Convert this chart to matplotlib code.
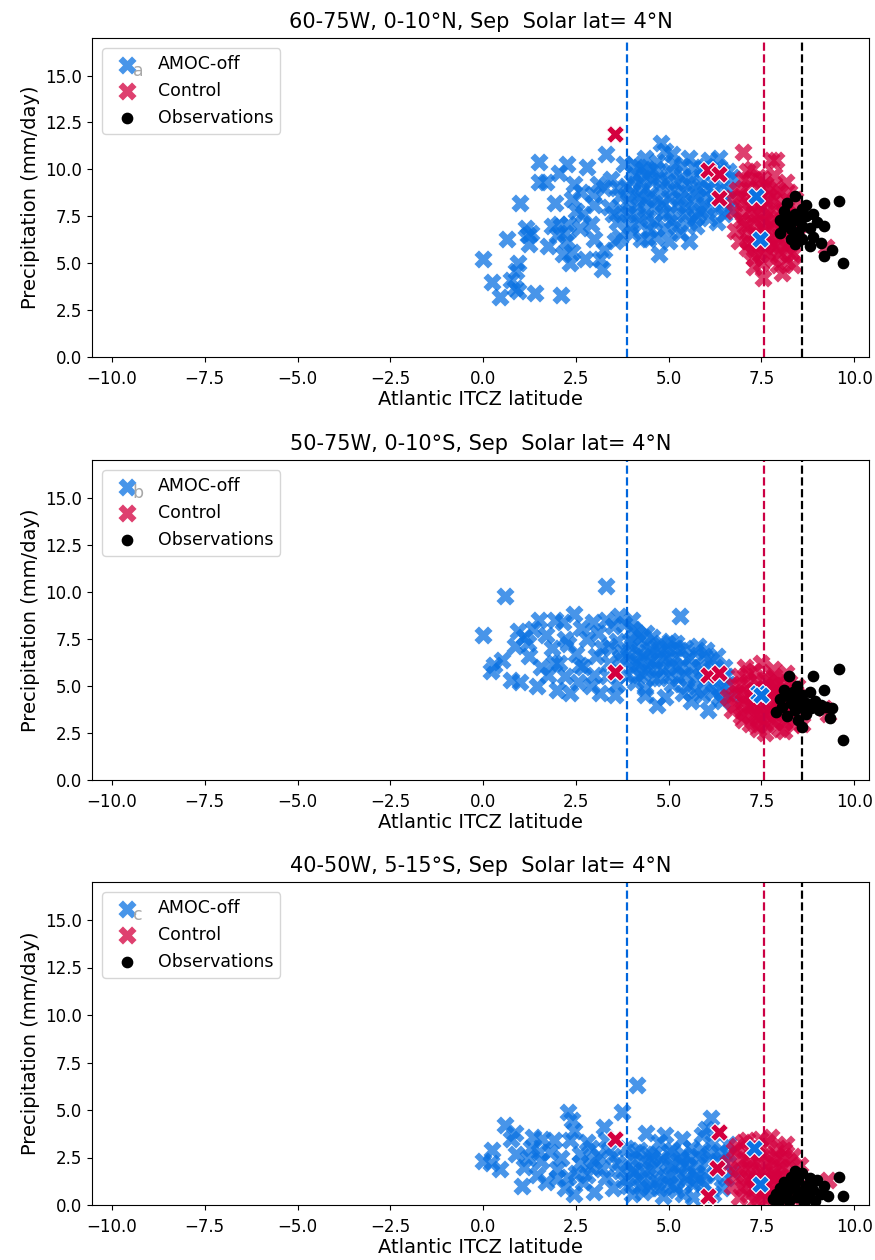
import numpy as np
import matplotlib
matplotlib.use("Agg")
import matplotlib.pyplot as plt

# vertical reference lines (mean ITCZ latitude)
itcz_amoc = 3.88
itcz_ctrl = 7.58
itcz_obs = 8.6

titles = ["60-75W, 0-10°N, Sep  Solar lat= 4°N",
          "50-75W, 0-10°S, Sep  Solar lat= 4°N",
          "40-50W, 5-15°S, Sep  Solar lat= 4°N"]
panel_letters = ["a", "b", "c"]

# ---- panel a ----
amoc_a = [(0.0,5.2),(0.25,4.0),(0.45,3.2),(0.65,6.3),(0.75,4.1),(0.85,3.7),(0.9,4.6),(0.95,5.0),(1.0,8.2),(0.95,3.5),
          (1.15,6.9),(1.2,6.5),(1.3,6.6),(1.25,6.0),(1.4,3.4),(1.5,10.4),(1.5,9.3),(1.7,9.3),(1.75,5.9),(1.85,7.0),
          (1.95,8.2),(2.05,9.8),(2.05,7.1),(2.1,3.3),(2.15,5.5),(2.25,10.3),(2.25,6.2),(2.2,6.6),(2.35,5.0),(2.45,9.2),
          (2.5,7.8),(2.4,5.6),(2.6,6.9),(2.65,8.8),(2.75,5.2),(2.8,10.1),(2.9,7.1),(2.95,8.7),(3.0,6.3),(3.15,5.2),
          (3.2,4.7),(3.25,5.7),(3.3,10.8),(3.25,9.0),(3.4,8.0),(3.45,9.5),(3.55,6.2),(3.6,7.2),(3.7,8.6),(3.8,10.3),
          (3.85,9.1),(3.9,7.6),(4.0,8.8),(4.0,6.6),(4.1,9.7),(4.15,8.1),(4.2,7.2),(4.3,10.0),(4.3,9.0),(4.35,10.6),
          (4.4,8.4),(4.45,7.4),(4.5,6.8),(4.55,9.4),(4.6,8.0),(4.7,10.4),(4.75,5.5),(4.8,11.4),(4.8,9.1),(4.85,7.7),
          (4.9,11.0),(4.9,6.9),(5.0,8.5),(5.05,9.9),(5.1,10.8),(5.1,7.3),(5.2,9.3),(5.25,8.1),(5.3,6.6),(5.35,10.2),
          (5.4,8.8),(5.45,7.6),(5.55,10.6),(5.55,6.2),(5.6,9.6),(5.65,8.3),(5.75,7.0),(5.8,9.0),(5.85,7.8),(5.9,10.0),
          (6.0,8.6),(6.0,10.2),(6.1,7.4),(6.2,9.3),(6.35,10.6),(6.4,8.2),(6.45,9.9),(6.5,7.6),(6.6,8.9),(6.7,9.6),
          (4.25,6.3),(4.65,6.4),(5.0,6.2),(3.95,7.0),(4.05,10.3),(4.5,9.9),(5.7,7.4),(6.25,8.0),(6.3,10.1),(3.7,6.4),
          (4.2,8.6),
          (3.9,8.3),(4.0,9.4),(4.1,7.6),(4.2,10.1),(4.25,9.3),(4.35,7.9),(4.4,9.7),(4.5,8.7),(4.6,7.2),(4.65,10.0),
          (4.7,8.4),(4.75,9.6),(4.85,8.2),(4.95,9.4),(5.0,7.7),(5.1,8.9),(5.15,10.3),(5.2,7.0),(5.3,8.5),(5.35,9.6),
          (5.45,8.0),(5.5,9.2),(5.55,7.2),(5.65,10.1),(5.7,8.7),(5.8,7.6),(5.9,9.4),(5.95,8.1),(6.05,9.0),(6.1,10.5),
          (6.2,8.5),(6.3,7.2),(6.4,9.1),(6.55,8.4),(6.6,9.9),(6.65,7.9),(3.6,9.0),(3.5,7.6),(3.75,7.8),(4.45,6.3),
          (3.1,9.2),(3.0,8.1),(2.7,7.6),(2.4,8.4),(2.0,6.5),(2.3,7.1)]
ctrl_a = [(6.75,7.8),(6.8,6.7),(6.85,8.9),(6.9,6.2),(6.95,7.3),(7.0,10.9),(7.0,9.5),(7.05,8.2),(7.1,5.8),(7.1,7.0),
          (7.15,9.0),(7.2,6.5),(7.2,7.8),(7.25,10.0),(7.3,5.3),(7.3,8.4),(7.35,7.2),(7.4,6.0),(7.4,9.6),(7.45,7.6),
          (7.5,5.0),(7.5,8.0),(7.55,4.2),(7.55,6.8),(7.6,9.2),(7.6,7.3),(7.65,5.6),(7.7,8.6),(7.7,6.4),(7.75,10.5),
          (7.75,7.0),(7.8,5.2),(7.8,7.9),(7.85,9.7),(7.9,6.0),(7.9,10.5),(7.95,7.4),(8.0,8.8),(8.0,5.5),(8.05,4.5),
          (8.1,6.6),(8.15,9.3),(8.2,5.1),(8.25,7.8),(8.3,6.2),(8.35,5.5),(8.4,8.4),(7.0,7.6),(7.25,6.1),(7.65,8.3),
          (7.45,9.0),(7.85,6.7),(8.1,7.2),(7.3,4.8),(9.25,5.85),(6.7,8.5),(7.1,8.6),(7.95,5.8),
          (6.95,8.6),(7.05,7.0),(7.15,6.2),(7.2,9.4),(7.3,7.6),(7.35,6.6),(7.4,8.2),(7.5,7.0),(7.55,9.5),(7.6,5.9),
          (7.65,7.7),(7.7,9.0),(7.75,6.1),(7.8,8.4),(7.85,7.2),(7.9,9.0),(8.0,6.3),(8.05,7.8),(8.1,8.2),(8.15,5.9),
          (8.2,6.9),(8.25,8.8),(8.3,5.6),(8.4,7.1),(7.25,5.6),(7.45,5.5),(7.95,4.9),(8.35,4.9),(7.1,9.9),(8.5,6.5),
          (8.45,7.6)]
amoc_hi_a = [(7.35,8.6),(7.45,6.3)]
ctrl_hi_a = [(3.55,11.9),(6.05,9.95),(6.35,9.75),(6.35,8.45)]
obs_a = [(8.0,7.3),(8.1,7.0),(8.1,7.8),(8.2,8.2),(8.2,7.5),(8.3,7.2),(8.3,6.8),(8.4,8.6),(8.4,7.6),(8.4,6.0),
         (8.5,7.3),(8.5,6.6),(8.6,7.9),(8.6,7.0),(8.6,6.3),(8.7,7.5),(8.7,8.1),(8.8,6.9),(8.8,5.9),(8.9,7.6),
         (8.9,6.4),(9.0,7.2),(9.1,6.1),(9.2,8.2),(9.2,7.0),(9.2,5.4),(9.4,5.7),(9.6,8.3),(9.7,5.0),(8.0,6.6),
         (8.55,7.6),(8.3,6.3)]

# ---- panel b ----
amoc_b = [(0.0,7.7),(0.2,5.8),(0.3,6.1),(0.5,6.4),(0.6,9.8),(0.75,5.3),(0.85,7.1),(0.95,7.9),(1.0,5.2),(1.1,7.6),
          (1.2,7.3),(1.25,6.6),(1.35,8.0),(1.45,5.0),(1.5,8.5),(1.55,6.0),(1.7,7.7),(1.75,5.6),(1.85,7.0),(1.95,8.5),
          (2.0,4.8),(2.05,6.2),(2.15,8.4),(2.2,5.5),(2.3,7.2),(2.35,4.6),(2.45,8.8),(2.5,6.7),(2.55,5.2),(2.65,8.1),
          (2.7,6.0),(2.8,7.5),(2.9,5.0),(2.95,8.4),(3.05,6.6),(3.1,7.8),(3.15,4.6),(3.3,10.3),(3.35,5.5),(3.4,7.1),
          (3.5,8.2),(3.55,4.5),(3.65,8.7),(3.7,6.5),(3.8,8.3),(3.85,5.6),(3.95,7.4),(4.0,6.0),(4.05,8.0),(4.1,5.2),
          (4.15,6.8),(4.25,7.6),(4.3,5.7),(4.35,4.9),(4.4,7.0),(4.5,6.3),(4.55,7.6),(4.6,5.4),(4.7,4.0),(4.75,6.8),
          (4.8,7.3),(4.85,5.9),(4.9,4.4),(5.0,6.5),(5.05,7.4),(5.1,5.1),(5.2,6.0),(5.3,8.7),(5.3,6.9),(5.4,4.6),
          (5.45,5.6),(5.55,6.5),(5.6,4.2),(5.7,5.3),(5.8,7.1),(5.85,6.0),(5.9,4.5),(6.0,5.5),(6.05,3.7),(6.15,6.4),
          (6.2,4.7),(6.3,5.3),(6.45,4.2),(6.5,6.0),(6.6,5.1),(6.7,4.5),(4.0,8.5),(4.2,6.2),(4.65,6.0),(5.15,7.0),
          (5.95,6.6),(6.35,4.4),
          (3.9,6.6),(4.0,7.1),(4.1,6.3),(4.15,7.8),(4.2,5.6),(4.3,6.6),(4.4,7.8),(4.45,5.9),(4.5,6.9),(4.6,6.3),
          (4.7,7.1),(4.75,5.4),(4.85,6.5),(4.95,7.0),(5.0,5.6),(5.1,6.2),(5.2,7.3),(5.25,5.4),(5.35,6.1),(5.45,7.0),
          (5.5,5.0),(5.6,6.0),(5.7,6.8),(5.75,4.8),(5.9,5.8),(6.0,6.9),(6.1,5.0),(6.2,5.9),(6.3,6.6),(6.4,4.9),
          (6.55,5.5),(3.6,7.4),(3.75,6.8),(3.4,6.2),(3.2,7.0),(3.0,5.6),(2.6,6.1),(2.2,7.5),(1.9,6.2),(3.3,8.5),
          (3.6,5.1),(4.35,4.5)]
ctrl_b = [(6.6,4.4),(6.7,3.7),(6.75,5.0),(6.8,4.0),(6.9,5.5),(6.95,3.4),(7.0,4.7),(7.05,6.0),(7.1,3.9),(7.15,5.2),
          (7.2,3.0),(7.25,4.4),(7.3,5.8),(7.35,3.5),(7.4,2.7),(7.45,4.9),(7.5,6.2),(7.5,3.2),(7.55,4.1),(7.6,5.4),
          (7.65,2.9),(7.7,3.7),(7.75,4.6),(7.8,5.9),(7.85,3.1),(7.9,4.2),(7.95,5.2),(8.0,2.7),(8.05,3.6),(8.1,4.8),
          (8.15,5.7),(8.2,3.3),(8.3,4.4),(8.35,2.9),(8.45,5.0),(8.5,3.8),(8.6,3.0),(7.3,4.0),(7.65,4.4),(7.85,5.0),
          (7.0,4.2),(8.0,3.9),(9.2,3.8),(9.3,3.5),(7.45,3.8),(7.95,4.6),
          (6.85,4.6),(6.95,5.1),(7.05,3.6),(7.1,4.5),(7.15,5.7),(7.2,4.0),(7.3,4.8),(7.35,5.3),(7.4,3.3),(7.45,4.3),
          (7.55,3.5),(7.6,4.9),(7.7,5.2),(7.75,3.3),(7.8,4.0),(7.85,5.5),(7.9,3.5),(8.0,5.0),(8.05,4.3),(8.1,3.1),
          (8.2,4.0),(8.25,5.2),(8.3,3.6),(8.4,4.7),(7.6,2.5),(7.35,2.9),(8.1,2.6),(7.0,3.2)]
amoc_hi_b = [(7.4,4.6),(7.5,4.5)]
ctrl_hi_b = [(3.55,5.75),(6.05,5.6),(6.35,5.7)]
obs_b = [(7.9,3.6),(8.0,4.3),(8.05,3.9),(8.1,4.8),(8.15,4.5),(8.2,3.4),(8.25,5.5),(8.3,4.1),(8.35,4.7),(8.4,3.7),
         (8.45,5.0),(8.5,4.3),(8.55,3.9),(8.6,2.8),(8.6,4.5),(8.7,3.5),(8.7,4.1),(8.8,4.7),(8.85,3.8),(8.9,5.5),
         (8.95,4.2),(9.05,3.7),(9.1,4.0),(9.2,4.8),(9.25,3.9),(9.35,3.3),(9.4,3.8),(9.6,5.9),(9.7,2.1),(8.35,4.4),
         (8.5,3.2),(8.75,4.0)]

# ---- panel c ----
amoc_c = [(0.0,2.3),(0.2,2.2),(0.25,2.9),(0.45,1.9),(0.6,4.2),(0.75,3.5),(0.85,3.8),(0.9,2.7),(1.05,1.0),(1.1,2.0),
          (1.2,2.5),(1.35,3.6),(1.45,1.6),(1.55,2.3),(1.6,3.5),(1.7,1.2),(1.8,2.8),(1.9,3.4),(2.0,1.9),(2.1,2.5),
          (2.2,0.9),(2.3,4.9),(2.35,3.4),(2.4,4.5),(2.45,0.6),(2.5,1.7),(2.6,2.7),(2.7,1.2),(2.8,3.3),(2.9,2.0),
          (3.0,0.7),(3.1,2.6),(3.25,4.1),(3.3,1.5),(3.4,2.9),(3.5,0.9),(3.6,2.2),(3.75,4.9),(3.8,1.3),(3.85,3.0),
          (3.95,2.0),(4.0,0.6),(4.1,2.8),(4.15,6.3),(4.2,1.4),(4.3,2.3),(4.4,3.8),(4.45,0.9),(4.5,1.9),(4.6,2.7),
          (4.7,1.2),(4.75,3.3),(4.85,0.5),(4.9,3.7),(4.95,2.2),(5.05,1.6),(5.1,2.9),(5.2,0.8),(5.3,2.4),(5.35,3.5),
          (5.45,1.3),(5.5,2.0),(5.6,3.0),(5.65,0.4),(5.7,1.7),(5.8,2.6),(5.9,3.7),(5.95,1.1),(6.05,2.3),(6.15,4.6),
          (6.2,3.3),(6.25,1.6),(6.35,2.8),(6.45,0.9),(6.5,2.2),(6.6,3.2),(6.7,1.8),(4.25,1.0),(4.55,2.5),(5.0,1.1),
          (5.4,2.7),(5.75,1.5),(4.05,1.8),(6.0,4.0),
          (3.9,1.0),(4.0,2.4),(4.1,1.7),(4.2,2.9),(4.3,0.7),(4.35,1.8),(4.45,2.7),(4.55,1.2),(4.65,2.0),(4.75,0.9),
          (4.8,2.5),(4.9,1.5),(5.0,2.8),(5.1,2.1),(5.15,1.0),(5.25,1.7),(5.35,2.2),(5.4,0.6),(5.5,1.5),(5.55,2.5),
          (5.65,1.1),(5.75,2.1),(5.85,1.3),(5.9,2.9),(6.0,1.7),(6.1,2.7),(6.2,0.6),(6.3,1.9),(6.4,2.4),(6.55,1.4),
          (6.6,2.7),(3.7,1.8),(3.5,2.6),(3.2,1.9),(3.0,2.3),(2.8,1.6),(2.6,2.2),(2.3,1.5),(2.0,1.4),(1.5,2.8),
          (1.3,3.0),(2.9,3.0),(3.3,3.4),(2.45,3.9)]
ctrl_c = [(6.6,2.2),(6.7,1.0),(6.75,2.9),(6.8,1.6),(6.9,0.4),(6.95,2.5),(7.0,3.3),(7.05,1.2),(7.1,2.0),(7.15,0.6),
          (7.2,2.8),(7.25,1.5),(7.3,0.2),(7.4,2.3),(7.45,3.5),(7.5,0.8),(7.55,1.8),(7.6,2.7),(7.65,0.3),(7.7,1.3),
          (7.75,3.6),(7.8,2.2),(7.85,0.7),(7.9,1.6),(7.95,3.0),(8.0,0.4),(8.05,2.5),(8.1,1.1),(8.15,3.2),(8.2,1.9),
          (8.3,0.6),(8.35,2.6),(8.45,1.5),(8.55,2.1),(7.35,1.2),(7.6,1.0),(7.85,1.4),(7.2,1.8),(8.0,2.0),(9.3,1.3),
          (6.85,3.1),
          (6.9,1.9),(7.0,0.9),(7.05,2.4),(7.15,1.4),(7.25,2.3),(7.3,0.9),(7.35,3.1),(7.45,1.7),(7.5,2.6),(7.55,0.5),
          (7.6,1.6),(7.7,2.4),(7.75,0.9),(7.8,1.8),(7.9,2.6),(7.95,1.1),(8.05,1.5),(8.1,2.9),(8.2,0.9),(8.25,2.3),
          (8.35,1.2),(8.4,0.3),(7.1,3.4),(7.65,3.3),(7.4,0.4)]
amoc_hi_c = [(7.3,3.0),(7.45,1.1)]
ctrl_hi_c = [(3.55,3.5),(6.35,3.85),(6.3,1.95),(6.05,0.5)]
obs_c = [(7.8,0.3),(7.9,0.6),(7.95,0.1),(8.0,0.9),(8.05,0.4),(8.1,1.2),(8.2,0.7),(8.25,0.2),(8.3,1.5),(8.4,1.8),
         (8.4,0.9),(8.45,0.4),(8.5,1.3),(8.55,0.6),(8.6,1.7),(8.65,0.1),(8.7,1.0),(8.75,0.5),(8.8,1.4),(8.9,0.8),
         (8.95,0.2),(9.0,1.3),(9.1,0.6),(9.2,1.0),(9.3,0.5),(9.6,1.5),(9.7,0.5),(8.35,1.0),(8.85,1.2)]

panels = [(amoc_a, ctrl_a, amoc_hi_a, ctrl_hi_a, obs_a),
          (amoc_b, ctrl_b, amoc_hi_b, ctrl_hi_b, obs_b),
          (amoc_c, ctrl_c, amoc_hi_c, ctrl_hi_c, obs_c)]

blue = "#0a72e2"
red = "#d4003f"

plt.rcParams["font.size"] = 12

fig = plt.figure(figsize=(8.75, 12.6), dpi=100)
boxes = [(38, 357), (460, 780), (882, 1205)]

for i, (amoc, ctrl, amoc_hi, ctrl_hi, obs) in enumerate(panels):
    top, bot = boxes[i]
    ax = fig.add_axes([92/875, 1 - bot/1260, (869-92)/875, (bot-top)/1260])
    amoc = np.array(amoc); ctrl = np.array(ctrl)
    amoc_hi = np.array(amoc_hi); ctrl_hi = np.array(ctrl_hi); obs = np.array(obs)

    ax.scatter(amoc[:, 0], amoc[:, 1], marker="X", s=170, color=blue, alpha=0.75,
               linewidths=0, label="AMOC-off", zorder=2)
    ax.scatter(ctrl[:, 0], ctrl[:, 1], marker="X", s=170, color=red, alpha=0.75,
               linewidths=0, label="Control", zorder=2)
    ax.scatter(ctrl_hi[:, 0], ctrl_hi[:, 1], marker="X", s=170, color=red,
               edgecolors="white", linewidths=0.8, zorder=3)
    ax.scatter(amoc_hi[:, 0], amoc_hi[:, 1], marker="X", s=170, color=blue,
               edgecolors="white", linewidths=0.8, zorder=3)
    ax.scatter(obs[:, 0], obs[:, 1], marker="o", s=55, color="black",
               label="Observations", zorder=4)

    ax.axvline(itcz_amoc, color="#0066dd", ls="--", lw=1.6, zorder=2.5)
    ax.axvline(itcz_ctrl, color="#cc0044", ls="--", lw=1.6, zorder=2.5)
    ax.axvline(itcz_obs, color="black", ls="--", lw=1.6, zorder=2.5)

    ax.set_xlim(-10.54, 10.4)
    ax.set_ylim(0, 17)
    ax.set_xticks(np.arange(-10, 10.1, 2.5))
    ax.set_yticks(np.arange(0, 15.1, 2.5))
    ax.tick_params(axis="x", pad=6)
    ax.set_title(titles[i], fontsize=15, pad=7)
    ax.set_xlabel("Atlantic ITCZ latitude", fontsize=14, labelpad=1)
    ax.set_ylabel("Precipitation (mm/day)", fontsize=14)
    leg = ax.legend(loc="upper left", fontsize=12.5, handletextpad=0.8, borderaxespad=0.6)
    leg.set_zorder(5)
    ax.text(-9.3, 15.25, panel_letters[i], color="#a8a8a8", fontsize=12.5,
            ha="center", va="center", zorder=6)

fig.savefig("out.png", dpi=100)
